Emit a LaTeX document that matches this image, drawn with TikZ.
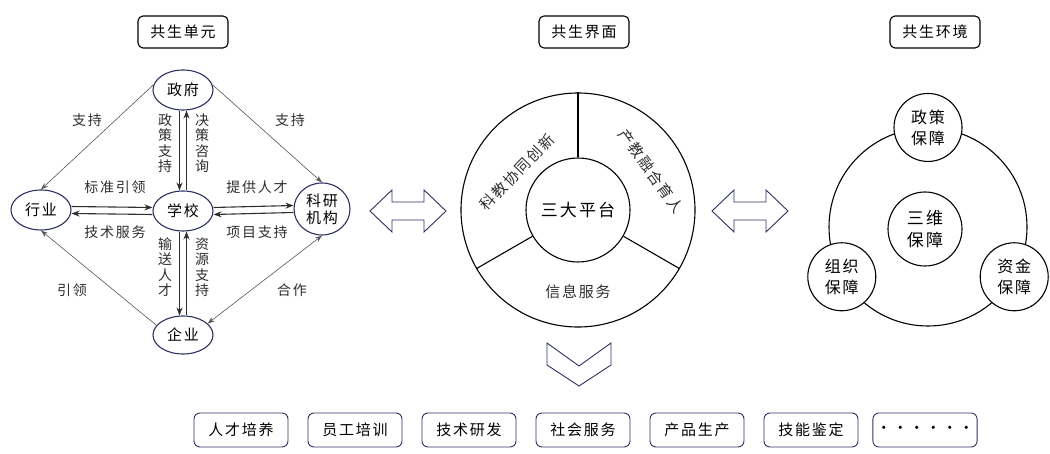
\documentclass[tikz,border=0pt]{standalone}
\usepackage{fontspec}
\setmainfont{Noto Sans CJK SC}[LetterSpace=12]
\usetikzlibrary{arrows.meta, shapes.geometric, calc, positioning}
\definecolor{symNavy}{HTML}{2C3160}
\definecolor{symLine}{HTML}{2E2E2E}
\definecolor{symGrey}{HTML}{555555}
\tikzset{
  titlebox/.style  = {draw=black, line width=1.1pt, rounded corners=5pt,
                      minimum width=90pt, minimum height=32pt,
                      font=\fontsize{15}{18}\selectfont},
  outbox/.style    = {draw=symNavy, line width=0.9pt, rounded corners=6pt,
                      minimum width=94pt, minimum height=34pt,
                      font=\fontsize{15}{18}\selectfont},
  unit/.style      = {ellipse, draw=symNavy, line width=1.1pt, inner sep=1pt,
                      minimum width=60pt, minimum height=40pt, align=center,
                      font=\fontsize{15}{17}\selectfont},
  ring/.style      = {circle, draw=black, line width=1.1pt, inner sep=0pt,
                      align=center, font=\fontsize{16}{21}\selectfont},
  flow/.style      = {-{Stealth[length=8pt, width=6pt]}, line width=1.1pt, symLine},
  linkline/.style  = {-{Stealth[length=7pt, width=5pt]}, line width=0.6pt, symGrey},
  lbl/.style       = {font=\fontsize{14}{16}\selectfont, symLine},
  vlbl/.style      = {font=\fontsize{14}{15.5}\selectfont, symLine, align=center},
  hollowarrow/.style = {draw=symNavy, line width=0.9pt, line join=miter},
}

\begin{document}
\begin{tikzpicture}[x=1pt, y=1pt]
  \useasboundingbox (0,0) rectangle (1050,453);

  % titles
  \node[titlebox] (tUnit) at (183,421) {共生单元};
  \node[titlebox] (tFace) at (584,421) {共生界面};
  \node[titlebox] (tEnv)  at (935,421) {共生环境};

  % symbiotic units
  \node[unit] (gov) at (183,363) {政府};
  \node[unit] (ind) at (41,243)  {行业};
  \node[unit] (sch) at (183,242) {学校};
  \node[unit, minimum width=56pt, minimum height=52pt] (res) at (322,244) {科研\\机构};
  \node[unit, minimum height=38pt] (ent) at (183,118) {企业};

  \draw[flow] ([xshift=-3.5pt]gov.south) -- ([xshift=-3.5pt]sch.north);
  \draw[flow] ([xshift=3.5pt]sch.north) -- ([xshift=3.5pt]gov.south);
  \draw[flow] ([xshift=-3.5pt]sch.south) -- ([xshift=-3.5pt]ent.north);
  \draw[flow] ([xshift=3.5pt]ent.north) -- ([xshift=3.5pt]sch.south);
  \draw[flow] ([yshift=3.5pt]ind.east) -- ([yshift=3.5pt]sch.west);
  \draw[flow] ([yshift=-3.5pt]sch.west) -- ([yshift=-3.5pt]ind.east);
  \draw[flow] ([yshift=3.5pt]sch.east) -- ([yshift=3.5pt]res.west);
  \draw[flow] ([yshift=-3.5pt]res.west) -- ([yshift=-3.5pt]sch.east);

  \draw[linkline] (gov.170) -- (ind.north);
  \draw[linkline] (gov.10) -- (res.north);
  \draw[linkline] (ent.160) -- (ind.south);
  \draw[linkline, {Stealth[length=7pt, width=5pt]}-{Stealth[length=7pt, width=5pt]}] (res.south) -- (ent.25);

  \foreach \nm/\xx/\yy/\txt in {lbStd/115/266/标准引领, lbTec/115/221/技术服务,
      lbTal/257/266/提供人才, lbPrj/257/221/项目支持, lbSupL/87/333/支持,
      lbSupR/290/333/支持, lbLead/72/163/引领, lbCoop/292/163/合作} {
    \node[lbl] (\nm) at (\xx,\yy) {\txt};
  }
  \foreach \nm/\xx/\yy/\txt in {lbPol/165/310/{政\\策\\支\\持}, lbAdv/202/310/{决\\策\\咨\\询},
      lbSend/165/186/{输\\送\\人\\才}, lbRes/202/186/{资\\源\\支\\持}} {
    \node[vlbl] (\nm) at (\xx,\yy) {\txt};
  }

  % interface
  \node[ring, minimum size=234pt] (plat) at (578,243) {};
  \node[ring, minimum size=104pt, font=\fontsize{17}{20}\selectfont] (core) at (578,243) {三大平台};
  \foreach \ang in {90,210,330} {
    \draw[line width=1.1pt] (core.\ang) -- (plat.\ang);
  }
  \node[lbl, font=\fontsize{15}{17}\selectfont] (pInfo) at (578,161) {信息服务};
  \node[lbl, font=\fontsize{15}{17}\selectfont, rotate=46] (pSci) at (517,281) {科教协同创新};
  \node[lbl, font=\fontsize{15}{17}\selectfont, rotate=-54] (pInd) at (651,282) {产教融合育人};

  % hollow arrows
  \foreach \cx in {408,750} {
    \draw[hollowarrow, shift={(\cx,242)}] (-38,0) -- (-16,21) -- (-16,9) -- (16,9)
      -- (16,21) -- (38,0) -- (16,-21) -- (16,-9) -- (-16,-9) -- (-16,-21) -- cycle;
  }
  \draw[hollowarrow] (547,110) -- (547,88) -- (579,67) -- (611,88) -- (611,110)
    -- (579,87) -- cycle;

  % environment
  \node[ring, minimum size=198pt] (env) at (928,226) {};
  \node[ring, minimum size=74pt, font=\fontsize{17}{22}\selectfont] (envCore) at (925,224) {三维\\保障};
  \node[ring, fill=white, minimum size=68pt] (envPol) at (env.90)  {政策\\保障};
  \node[ring, fill=white, minimum size=68pt] (envOrg) at (env.210) {组织\\保障};
  \node[ring, fill=white, minimum size=68pt] (envFin) at (env.330) {资金\\保障};

  % outputs
  \foreach \txt [count=\i] in {人才培养, 员工培训, 技术研发, 社会服务, 产品生产, 技能鉴定,
      {·\hspace{1.5pt}·\hspace{1.5pt}·\hspace{1.5pt}·\hspace{1.5pt}·\hspace{1.5pt}·}} {
    \node[outbox] (out\i) at ({241+114*(\i-1)},23) {\txt};
  }
\end{tikzpicture}
\end{document}
